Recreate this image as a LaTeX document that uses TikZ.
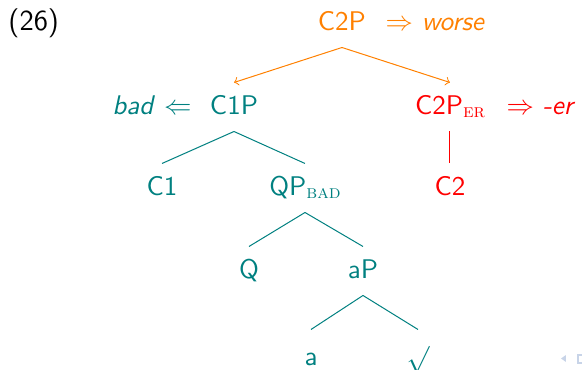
\documentclass[tikz,border=0pt]{standalone}
\usepackage{xcolor}
\definecolor{ored}{RGB}{255,0,0}
\definecolor{oorange}{RGB}{255,128,0}
\definecolor{oteal}{RGB}{0,128,128}
\definecolor{navc}{RGB}{200,212,232}
\newcommand\sbsc[1]{\raisebox{-1pt}{\fontsize{7.56}{8}\selectfont\rmfamily\scshape #1}}
\begin{document}
\begin{tikzpicture}[x=0.4pt,y=-0.4pt,
  every node/.style={font=\fontsize{10.8}{13}\selectfont\sffamily},
  tn/.style={anchor=base, text height=7.5pt, text depth=1.1pt, inner xsep=0pt, inner ysep=5.3pt},
  lab/.style={inner sep=0pt},
  tl/.style={line width=0.4pt}]
\useasboundingbox (0,0) rectangle (582,370);
% labels
\node[lab, anchor=base west, font=\fontsize{11.6}{14}\selectfont\sffamily] (num) at (8,31) {(26)};
\node[tn, oorange] (c2p) at (342,31) {C2P};
\node[lab, anchor=base west, oorange] (worse) at (385,31) {$\Rightarrow$ \textit{worse}};
\node[tn, oteal] (c1p) at (234,115) {C1P};
\node[lab, anchor=base east, oteal] (bad) at (192,115) {\textit{bad} $\Leftarrow$};
\node[tn, ored] (c2per) at (450,115) {C2P\sbsc{er}};
\node[lab, anchor=base west, ored] (er) at (506,115) {$\Rightarrow$ \textit{-er}};
\node[tn, oteal] (c1) at (162,196) {C1};
\node[tn, oteal] (qp) at (305,196) {QP\sbsc{bad}};
\node[tn, ored] (c2) at (450,196) {C2};
\node[tn, oteal] (q) at (249,279) {Q};
\node[tn, oteal] (ap) at (363,279) {aP};
\node[tn, oteal] (a) at (311,362) {\raisebox{-1.5pt}{a}};
\node[tn, oteal] (rt) at (418,362) {\raisebox{-2pt}{$\surd$}};
% edges
\draw[tl, oorange, ->] (c2p.south) -- (c1p.north);
\draw[tl, oorange, ->] (c2p.south) -- (c2per.north);
\draw[tl, oteal] (c1p.south) -- (c1.north);
\draw[tl, oteal] (c1p.south) -- (qp.north);
\draw[tl, ored] (c2per.south) -- (c2.north);
\draw[tl, oteal] (qp.south) -- (q.north);
\draw[tl, oteal] (qp.south) -- (ap.north);
\draw[tl, oteal] (ap.south) -- (a.north);
\draw[tl, oteal] (ap.south) -- (rt.north);
% navigation symbols
\fill[navc] (561,358.5) -- (566,355) -- (566,362) -- cycle;
\draw[navc, line width=0.8pt] (578,355) rectangle (586,363);
\end{tikzpicture}
\end{document}
